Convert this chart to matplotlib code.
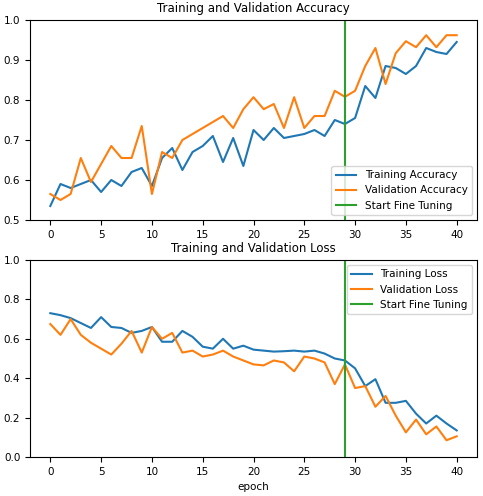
import matplotlib.pyplot as plt

epochs = list(range(41))
fine_tune_at = 29

acc = [0.535, 0.59, 0.58, 0.59, 0.60, 0.57, 0.60, 0.585, 0.62, 0.63, 0.585,
       0.655, 0.68, 0.625, 0.67, 0.685, 0.71, 0.645, 0.705, 0.635, 0.725,
       0.70, 0.73, 0.705, 0.71, 0.715, 0.725, 0.71, 0.75, 0.74, 0.755,
       0.835, 0.805, 0.885, 0.88, 0.865, 0.885, 0.93, 0.92, 0.915, 0.945]
val_acc = [0.565, 0.55, 0.565, 0.655, 0.595, 0.64, 0.685, 0.655, 0.655, 0.735,
           0.565, 0.67, 0.655, 0.70, 0.715, 0.73, 0.745, 0.76, 0.73, 0.777,
           0.807, 0.777, 0.79, 0.73, 0.807, 0.73, 0.76, 0.76, 0.823, 0.808,
           0.823, 0.885, 0.93, 0.84, 0.917, 0.947, 0.932, 0.962, 0.932, 0.962, 0.962]
loss = [0.73, 0.72, 0.705, 0.68, 0.655, 0.71, 0.66, 0.655, 0.63, 0.64, 0.66,
        0.585, 0.585, 0.64, 0.61, 0.56, 0.55, 0.60, 0.55, 0.565, 0.545,
        0.54, 0.535, 0.537, 0.54, 0.535, 0.54, 0.525, 0.50, 0.49, 0.45,
        0.36, 0.395, 0.275, 0.275, 0.285, 0.22, 0.17, 0.21, 0.17, 0.135]
val_loss = [0.675, 0.62, 0.70, 0.62, 0.58, 0.55, 0.52, 0.575, 0.64, 0.53, 0.66,
            0.60, 0.63, 0.53, 0.54, 0.51, 0.52, 0.54, 0.51, 0.49, 0.47,
            0.465, 0.49, 0.48, 0.435, 0.51, 0.50, 0.48, 0.37, 0.47, 0.35,
            0.36, 0.255, 0.31, 0.21, 0.125, 0.19, 0.115, 0.155, 0.085, 0.105]

plt.rcParams['font.size'] = 7.5

fig = plt.figure(figsize=(4.83, 4.96), dpi=100)
ax1 = fig.add_axes([30 / 483, 1 - 220 / 496, 447 / 483, 200 / 496])
ax1.plot(epochs, acc, label='Training Accuracy')
ax1.plot(epochs, val_acc, label='Validation Accuracy')
ax1.set_ylim(0.5, 1)
ax1.plot([fine_tune_at, fine_tune_at], ax1.get_ylim(), label='Start Fine Tuning')
ax1.legend(loc='lower right')
ax1.set_title('Training and Validation Accuracy', fontsize=8.5)

ax2 = fig.add_axes([30 / 483, 1 - 457 / 496, 447 / 483, 197 / 496])
ax2.plot(epochs, loss, label='Training Loss')
ax2.plot(epochs, val_loss, label='Validation Loss')
ax2.set_ylim(0, 1.0)
ax2.plot([fine_tune_at, fine_tune_at], ax2.get_ylim(), label='Start Fine Tuning')
ax2.legend(loc='upper right')
ax2.set_title('Training and Validation Loss', fontsize=8.5)
ax2.set_xlabel('epoch')

fig.savefig('out.png', dpi=100)
